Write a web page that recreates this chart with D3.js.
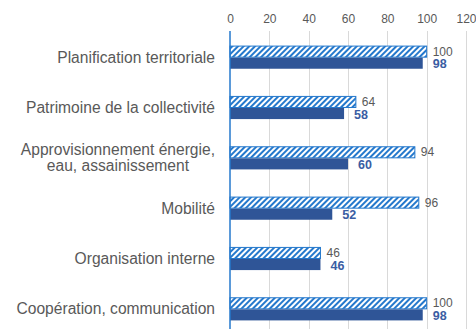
<!DOCTYPE html>
<html>
<head>
<meta charset="utf-8">
<script src="https://cdn.jsdelivr.net/npm/d3@7"></script>
<style>
  html, body { margin: 0; padding: 0; background: #fff; }
  svg { display: block; font-family: "Liberation Sans", Arial, sans-serif; }
</style>
</head>
<body>
<svg id="chart" width="476" height="329"></svg>
<script>
// Domains and their two score series
const categories = [
  ["Planification territoriale"],
  ["Patrimoine de la collectivité"],
  ["Approvisionnement énergie,", "eau, assainissement"],
  ["Mobilité"],
  ["Organisation interne"],
  ["Coopération, communication"]
];
const hatchedValues = [100, 64, 94, 96, 46, 100];
const solidValues = [98, 58, 60, 52, 46, 98];
const tickValues = [0, 20, 40, 60, 80, 100, 120];

const svg = d3.select("#chart");
const W = 476, H = 329;
const plotLeft = 230, plotRight = 466, plotTop = 32, plotBottom = 334;
const catFont = "15.6px";

const x = d3.scaleLinear().domain([0, 120]).range([plotLeft, plotRight]);
const y = d3.scaleBand().domain(d3.range(categories.length)).range([plotTop, plotBottom]).paddingInner(0.54).paddingOuter(0.27);

const blue = "#2478cc";
const navy = "#2f5597";
const grey = "#595959";

// diagonal hatch fill
const defs = svg.append("defs");
const pat = defs.append("pattern")
  .attr("id", "hatch")
  .attr("patternUnits", "userSpaceOnUse")
  .attr("width", 4).attr("height", 4)
  .attr("patternTransform", "rotate(45)");
pat.append("rect").attr("width", 4).attr("height", 4).attr("fill", "#fff");
pat.append("rect").attr("x", 0).attr("y", 0).attr("width", 2).attr("height", 4).attr("fill", blue);

// gridlines
svg.append("g")
  .selectAll("line")
  .data(tickValues.filter(d => d > 0))
  .join("line")
  .attr("x1", d => Math.round(x(d)) + 0.5)
  .attr("x2", d => Math.round(x(d)) + 0.5)
  .attr("y1", 31).attr("y2", H)
  .attr("stroke", "#d9d9d9").attr("stroke-width", 1);

// top axis labels
const axis = d3.axisTop(x).tickValues(tickValues).tickSize(0).tickPadding(0);
const axG = svg.append("g").attr("transform", "translate(0,23)").call(axis);
axG.select(".domain").remove();
axG.selectAll("text")
  .attr("fill", grey)
  .style("font-size", "12px")
  .style("font-family", "'Liberation Sans', Arial, sans-serif");

const bh = y.bandwidth() / 2;

// hatched series
svg.append("g")
  .selectAll("rect")
  .data(hatchedValues)
  .join("rect")
  .attr("x", x(0))
  .attr("y", (d, i) => y(i) + 0.5)
  .attr("width", d => x(d) - x(0))
  .attr("height", bh - 0.5)
  .attr("fill", "url(#hatch)")
  .attr("stroke", blue)
  .attr("stroke-width", 1);

// solid series
svg.append("g")
  .selectAll("rect")
  .data(solidValues)
  .join("rect")
  .attr("x", x(0))
  .attr("y", (d, i) => y(i) + bh + 0.5)
  .attr("width", d => x(d) - x(0))
  .attr("height", bh - 0.5)
  .attr("fill", navy);

// zero line
svg.append("line")
  .attr("x1", x(0)).attr("x2", x(0))
  .attr("y1", 31).attr("y2", H)
  .attr("stroke", blue).attr("stroke-width", 1.5);

// value labels
svg.append("g")
  .selectAll("text")
  .data(hatchedValues)
  .join("text")
  .attr("x", d => x(d) + 6)
  .attr("y", (d, i) => y(i) + bh / 2)
  .attr("dy", "0.35em")
  .attr("fill", grey)
  .style("font-size", "12px")
  .text(d => d);

svg.append("g")
  .selectAll("text")
  .data(solidValues)
  .join("text")
  .attr("x", d => x(d) + 10)
  .attr("y", (d, i) => y(i) + bh * 1.5 + 1)
  .attr("dy", "0.35em")
  .attr("fill", "#3a5da3")
  .style("font-size", "12.5px")
  .style("font-weight", "bold")
  .text(d => d);

// category labels
const labG = svg.append("g");
categories.forEach((lines, i) => {
  const cy = y(i) + y.bandwidth() / 2;
  const t = labG.append("text")
    .attr("fill", grey)
    .style("font-size", catFont);
  if (lines.length === 1) {
    t.attr("x", 215).attr("y", cy).attr("dy", "0.35em").attr("text-anchor", "end").text(lines[0]);
  } else {
    // measure the widest line, then centre both lines under it
    t.attr("text-anchor", "middle");
    const tmp = labG.append("text").style("font-size", catFont).text(lines[0]);
    const w = Math.max(...lines.map(l => { tmp.text(l); return tmp.node().getComputedTextLength(); }));
    tmp.remove();
    const cx = 215 - w / 2;
    lines.forEach((l, k) => {
      t.append("tspan")
        .attr("x", cx)
        .attr("y", cy + (k - (lines.length - 1) / 2) * 16)
        .attr("dy", "0.35em")
        .text(l);
    });
  }
});
</script>
</body>
</html>
